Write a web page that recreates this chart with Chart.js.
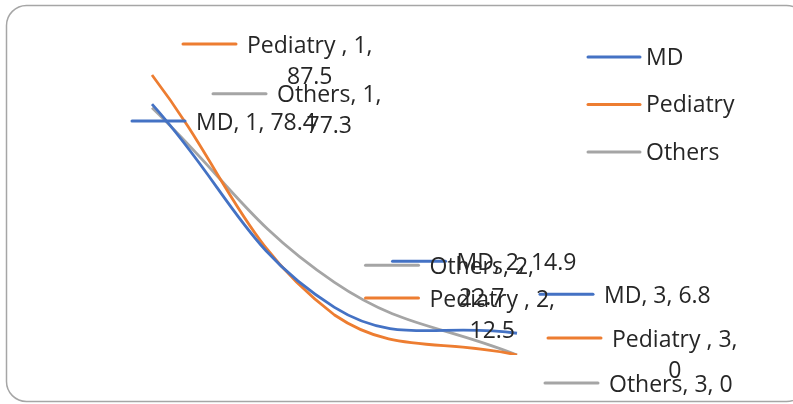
<!DOCTYPE html>
<html>
<head>
<meta charset="utf-8">
<script src="https://cdn.jsdelivr.net/npm/chart.js@4"></script>
<style>
	body { margin:0; background:#fff; }
	#wrap { width:793px; height:404px; }
</style>
</head>
<body>
<div id="wrap"><canvas id="c" width="793" height="404"></canvas></div>
<script>
var categories = ['1', '2', '3'];
var seriesNames = ['MD', 'Pediatry ', 'Others'];
var mdValues = [78.4, 14.9, 6.8];
var pediatryValues = [87.5, 12.5, 0];
var othersValues = [77.3, 22.7, 0];
var seriesColors = ['#4472C4', '#ED7D31', '#A5A5A5'];

// where each data label sits, relative to its point: [dx, dy, wrap]
var labelOffsets = [
	[ [-20, 17, false], [58, -46, false], [23, -39, false] ],
	[ [31, -31, true],  [31, -17, true],  [31, -17, true] ],
	[ [61, -14, true],  [31, -17, true],  [28, 28, false] ]
];

var FONT = '23px "Open Sans"';
var TEXT_COLOR = '#262626';

var labelPlugin = {
	id: 'xlLabels',
	beforeDraw: function(chart){
		var ctx = chart.ctx;
		ctx.save();
		ctx.strokeStyle = '#a6a6a6';
		ctx.lineWidth = 1.5;
		ctx.beginPath();
		ctx.roundRect(6.5, 5.5, 800, 396, 20);
		ctx.stroke();
		ctx.restore();
	},
	afterDatasetsDraw: function(chart){
		var ctx = chart.ctx;
		ctx.save();
		ctx.font = FONT;
		ctx.textBaseline = 'middle';
		ctx.lineCap = 'round';
		chart.data.datasets.forEach(function(ds, i){
			var meta = chart.getDatasetMeta(i);
			meta.data.forEach(function(pt, j){
				var off = labelOffsets[i][j],
					kx = pt.x + off[0],
					ky = pt.y + off[1],
					tx = kx + 64,
					txt = ds.label + ', ' + categories[j] + ', ' + ds.data[j];
				ctx.strokeStyle = ds.borderColor;
				ctx.lineWidth = 3;
				ctx.beginPath();
				ctx.moveTo(kx, ky);
				ctx.lineTo(kx + 53, ky);
				ctx.stroke();
				ctx.fillStyle = TEXT_COLOR;
				ctx.textAlign = 'left';
				if(off[2]){
					var first = ds.label + ', ' + categories[j] + ',',
						second = '' + ds.data[j],
						w = ctx.measureText(first).width;
					ctx.fillText(first, tx, ky + 2);
					ctx.textAlign = 'center';
					ctx.fillText(second, tx + w / 2, ky + 33);
				}else{
					ctx.fillText(txt, tx, ky + 2);
				}
			});
		});
		// legend
		chart.data.datasets.forEach(function(ds, i){
			var y = 57 + i * 47.5;
			ctx.strokeStyle = ds.borderColor;
			ctx.lineWidth = 3;
			ctx.beginPath();
			ctx.moveTo(588, y);
			ctx.lineTo(640, y);
			ctx.stroke();
			ctx.fillStyle = TEXT_COLOR;
			ctx.textAlign = 'left';
			ctx.fillText(ds.label.trim(), 646, y + 1);
		});
		ctx.restore();
	}
};

function makeSet(name, values, color){
	return {
		label: name,
		data: values,
		borderColor: color,
		backgroundColor: color,
		borderWidth: 2.8,
		pointRadius: 0,
		tension: 0.42,
		fill: false
	};
}

new Chart(document.getElementById('c').getContext('2d'), {
	type: 'line',
	data: {
		labels: categories,
		datasets: [
			makeSet(seriesNames[0], mdValues, seriesColors[0]),
			makeSet(seriesNames[1], pediatryValues, seriesColors[1]),
			makeSet(seriesNames[2], othersValues, seriesColors[2])
		]
	},
	options: {
		responsive: false,
		animation: false,
		layout: { padding: { left: 152, right: 276, top: 35, bottom: 49 } },
		plugins: { legend: { display: false }, tooltip: { enabled: false } },
		scales: {
			x: { display: false, offset: false },
			y: { display: false, min: 0, max: 100 }
		}
	},
	plugins: [labelPlugin]
});
</script>
</body>
</html>
